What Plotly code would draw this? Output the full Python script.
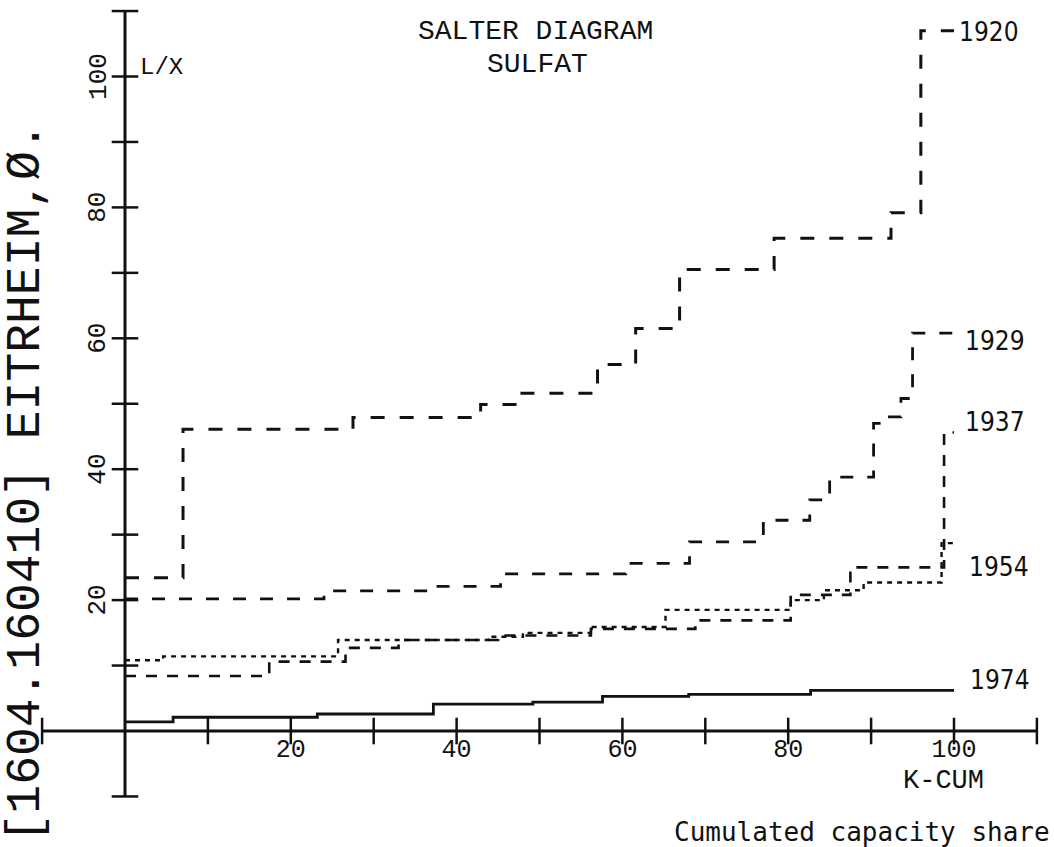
import plotly.graph_objects as go

# ---------------- data ----------------
axis_ticks = [-10, 10, 20, 30, 40, 50, 60, 70, 80, 90, 100, 110]
x_tick_labels = [20, 40, 60, 80, 100]
y_tick_labels = [20, 40, 60, 80, 100]

edges_1920 = [0, 7.0, 27.5, 42.9, 47.5, 57.0, 61.6, 66.9, 78.3, 92.4, 96.0, 100]
levels_1920 = [23.4, 46.1, 47.9, 49.9, 51.6, 56.0, 61.5, 70.5, 75.3, 79.2, 107.0]

edges_1929 = [0, 24.0, 37.1, 45.3, 60.4, 68.1, 77.0, 82.6, 85.0, 90.3, 91.8, 93.6, 95.0, 100]
levels_1929 = [20.2, 21.4, 22.1, 24.0, 25.6, 28.9, 32.2, 35.3, 38.8, 47.0, 48.0, 50.8, 60.8]

edges_1937 = [0, 17.4, 26.6, 33.0, 45.0, 56.2, 68.8, 80.3, 87.5, 98.8, 100]
levels_1937 = [8.4, 10.6, 12.7, 13.9, 14.6, 15.6, 16.9, 20.8, 25.0, 45.6]

edges_1954 = [0, 4.6, 25.7, 43.8, 48.0, 56.2, 65.2, 80.3, 84.3, 89.1, 98.5, 100]
levels_1954 = [10.8, 11.4, 13.9, 14.4, 15.0, 15.9, 18.5, 20.0, 21.5, 22.7, 28.7]

edges_1974 = [0, 5.8, 23.2, 37.2, 49.2, 57.6, 68.0, 82.7, 100]
levels_1974 = [1.4, 2.1, 2.6, 4.1, 4.4, 5.3, 5.6, 6.2]

series = [
    ("1920", edges_1920, levels_1920, "14px,15px", 3.0, (100.4, 106.8)),
    ("1929", edges_1929, levels_1929, "13px,14px", 2.8, (101.1, 59.6)),
    ("1937", edges_1937, levels_1937, "11px,10px", 2.6, (101.1, 47.2)),
    ("1954", edges_1954, levels_1954, "5px,5px", 2.4, (101.6, 25.1)),
    ("1974", edges_1974, levels_1974, "solid", 2.8, (101.7, 7.8)),
]

INK = "#111111"
MONO = "DejaVu Sans Mono, Liberation Mono, monospace"
PLAIN0 = "Liberation Mono, DejaVu Sans Mono, monospace"
COND = "DejaVu Sans Condensed, DejaVu Sans, sans-serif"

fig = go.Figure()

# axes (crossing at origin)
fig.add_trace(go.Scatter(x=[-10, 110], y=[0, 0], mode="lines",
                         line=dict(color=INK, width=3), hoverinfo="skip"))
fig.add_trace(go.Scatter(x=[0, 0], y=[-10, 110], mode="lines",
                         line=dict(color=INK, width=3), hoverinfo="skip"))
# tick marks crossing the axes
fig.add_trace(go.Scatter(x=axis_ticks, y=[0] * len(axis_ticks), mode="markers",
                         marker=dict(symbol="line-ns", size=19,
                                     line=dict(color=INK, width=2.5)),
                         hoverinfo="skip"))
fig.add_trace(go.Scatter(x=[0] * len(axis_ticks), y=axis_ticks, mode="markers",
                         marker=dict(symbol="line-ew", size=19,
                                     line=dict(color=INK, width=2.5)),
                         hoverinfo="skip"))
# x tick labels
fig.add_trace(go.Scatter(x=x_tick_labels, y=[-3.0] * len(x_tick_labels), mode="text",
                         text=[str(v) for v in x_tick_labels],
                         textfont=dict(family=PLAIN0, size=25, color=INK),
                         textposition="middle center", hoverinfo="skip"))

# step lines
for name, edges, levels, dash, width, lab in series:
    fig.add_trace(go.Scatter(x=edges, y=levels + [levels[-1]], mode="lines",
                             line=dict(color=INK, width=width, dash=dash, shape="hv"),
                             name=name, hoverinfo="skip"))

annotations = []
# y tick labels (rotated)
for v in y_tick_labels:
    annotations.append(dict(x=-3.2, y=v, text=str(v), textangle=-90, showarrow=False,
                            font=dict(family=PLAIN0, size=26, color=INK),
                            xanchor="center", yanchor="middle"))
# year labels
for name, edges, levels, dash, width, lab in series:
    annotations.append(dict(x=lab[0], y=lab[1], text=name, showarrow=False,
                            font=dict(family=COND, size=26, color=INK),
                            xanchor="left", yanchor="middle"))

annotations += [
    dict(x=1.6, y=101.3, text="L/X", showarrow=False, xanchor="left", yanchor="middle",
         font=dict(family=PLAIN0, size=24, color=INK)),
    dict(x=49.5, y=106.8, text="SALTER DIAGRAM", showarrow=False,
         font=dict(family=PLAIN0, size=28, color=INK)),
    dict(x=49.7, y=101.9, text="SULFAT", showarrow=False,
         font=dict(family=PLAIN0, size=28, color=INK)),
    dict(x=98.7, y=-7.7, text="K-CUM", showarrow=False, borderpad=0,
         font=dict(family=PLAIN0, size=27, color=INK)),
    dict(x=111.8, y=-15.4, text="Cumulated capacity share", showarrow=False,
         xanchor="right", font=dict(family=MONO, size=26, color=INK)),
    dict(x=-12.0, y=37.9, text="[1604.160410] EITRHEIM,Ø.", textangle=-90,
         showarrow=False, font=dict(family=PLAIN0, size=48, color=INK)),
]

W, H = 1054, 847
PX_X, PX_Y = 8.29, 6.545
X0, Y0 = 125, 731
fig.update_layout(
    width=W, height=H,
    margin=dict(l=0, r=0, t=0, b=0),
    paper_bgcolor="white", plot_bgcolor="white",
    showlegend=False,
    xaxis=dict(range=[-X0 / PX_X, (W - X0) / PX_X], visible=False, fixedrange=True),
    yaxis=dict(range=[(Y0 - H) / PX_Y, Y0 / PX_Y], visible=False, fixedrange=True),
    annotations=annotations,
)

fig.write_html(
    "out.html",
    config={"displayModeBar": False},
    post_script="document.body.style.margin='0px';document.body.style.overflow='hidden';",
)
